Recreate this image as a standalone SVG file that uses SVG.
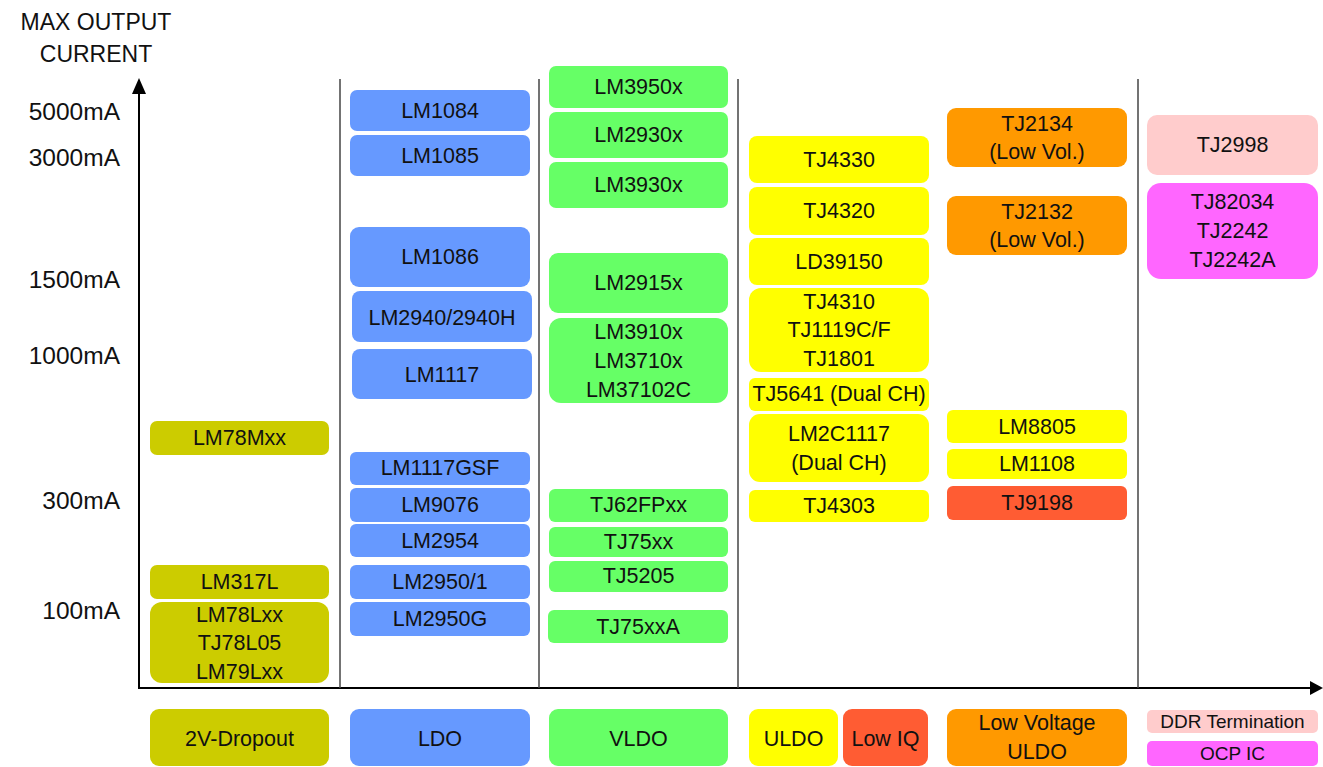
<svg xmlns="http://www.w3.org/2000/svg" width="1323" height="767" viewBox="0 0 1323 767">
<style>
text{font-family:"Liberation Sans",Arial,sans-serif;fill:#111;text-anchor:middle}
.t{font-size:21.5px}
.s{font-size:19px}
.ax{font-size:23px}
.axr{font-size:24.5px;text-anchor:end}
.olive{fill:#cccc00}.blue{fill:#6699ff}.green{fill:#66ff66}.yel{fill:#ffff00}
.org{fill:#ff9900}.red{fill:#ff5c33}.pink{fill:#ffcccc}.mag{fill:#ff66ff}
.axis{stroke:#000;stroke-width:2;fill:none}
.sep{stroke:#444;stroke-width:1.5;fill:none}
</style>
<rect width="1323" height="767" fill="#fff"/>
<g id="axis-labels">
<text class="ax" x="96" y="30">MAX OUTPUT</text>
<text class="ax" x="96" y="62">CURRENT</text>
<text class="axr" x="120" y="120">5000mA</text>
<text class="axr" x="120" y="166">3000mA</text>
<text class="axr" x="120" y="288">1500mA</text>
<text class="axr" x="120" y="364">1000mA</text>
<text class="axr" x="120" y="509">300mA</text>
<text class="axr" x="120" y="619">100mA</text>
</g>
<g id="connectors">
<line class="axis" x1="139" y1="689" x2="139" y2="92"/>
<polygon points="132,94 146,94 139,78" fill="#000"/>
<line class="axis" x1="138" y1="688" x2="1310" y2="688"/>
<polygon points="1310,681 1310,695 1323,688" fill="#000"/>
<line class="sep" x1="340" y1="79" x2="340" y2="688"/>
<line class="sep" x1="539" y1="79" x2="539" y2="688"/>
<line class="sep" x1="738" y1="79" x2="738" y2="688"/>
<line class="sep" x1="1138" y1="79" x2="1138" y2="688"/>
</g>
<!-- Column 1 -->
<g id="n-lm78mxx"><rect class="olive" x="150" y="421" width="179" height="34" rx="7"/><text class="t" x="239.5" y="445">LM78Mxx</text></g>
<g id="n-lm317l"><rect class="olive" x="150" y="565" width="179" height="34" rx="7"/><text class="t" x="239.5" y="589">LM317L</text></g>
<g id="n-lm78lxx"><rect class="olive" x="150" y="602" width="179" height="81" rx="12"/><text class="t" x="239.5" y="622">LM78Lxx</text><text class="t" x="239.5" y="650">TJ78L05</text><text class="t" x="239.5" y="679">LM79Lxx</text></g>
<!-- Column 2 -->
<g id="n-lm1084"><rect class="blue" x="350" y="90" width="180" height="41" rx="7"/><text class="t" x="440" y="118">LM1084</text></g>
<g id="n-lm1085"><rect class="blue" x="350" y="135" width="180" height="41" rx="7"/><text class="t" x="440" y="163">LM1085</text></g>
<g id="n-lm1086"><rect class="blue" x="350" y="227" width="180" height="60" rx="9"/><text class="t" x="440" y="264">LM1086</text></g>
<g id="n-lm2940"><rect class="blue" x="352" y="291" width="180" height="51" rx="8"/><text class="t" x="442" y="325">LM2940/2940H</text></g>
<g id="n-lm1117"><rect class="blue" x="352" y="349" width="180" height="50" rx="8"/><text class="t" x="442" y="382">LM1117</text></g>
<g id="n-lm1117gsf"><rect class="blue" x="350" y="452" width="180" height="33" rx="6"/><text class="t" x="440" y="475">LM1117GSF</text></g>
<g id="n-lm9076"><rect class="blue" x="350" y="488" width="180" height="34" rx="6"/><text class="t" x="440" y="512">LM9076</text></g>
<g id="n-lm2954"><rect class="blue" x="350" y="524" width="180" height="33" rx="6"/><text class="t" x="440" y="548">LM2954</text></g>
<g id="n-lm2950-1"><rect class="blue" x="350" y="565" width="180" height="34" rx="6"/><text class="t" x="440" y="589">LM2950/1</text></g>
<g id="n-lm2950g"><rect class="blue" x="350" y="602" width="180" height="34" rx="6"/><text class="t" x="440" y="626">LM2950G</text></g>
<!-- Column 3 -->
<g id="n-lm3950x"><rect class="green" x="549" y="66" width="179" height="42" rx="7"/><text class="t" x="638.5" y="94">LM3950x</text></g>
<g id="n-lm2930x"><rect class="green" x="549" y="112" width="179" height="46" rx="7"/><text class="t" x="638.5" y="142">LM2930x</text></g>
<g id="n-lm3930x"><rect class="green" x="549" y="162" width="179" height="46" rx="7"/><text class="t" x="638.5" y="192">LM3930x</text></g>
<g id="n-lm2915x"><rect class="green" x="549" y="253" width="179" height="60" rx="9"/><text class="t" x="638.5" y="290">LM2915x</text></g>
<g id="n-lm3910x"><rect class="green" x="549" y="318" width="179" height="85" rx="12"/><text class="t" x="638.5" y="339">LM3910x</text><text class="t" x="638.5" y="368">LM3710x</text><text class="t" x="638.5" y="397">LM37102C</text></g>
<g id="n-tj62fpxx"><rect class="green" x="549" y="489" width="179" height="33" rx="6"/><text class="t" x="638.5" y="512">TJ62FPxx</text></g>
<g id="n-tj75xx"><rect class="green" x="549" y="527" width="179" height="30" rx="6"/><text class="t" x="638.5" y="549">TJ75xx</text></g>
<g id="n-tj5205"><rect class="green" x="549" y="561" width="179" height="31" rx="6"/><text class="t" x="638.5" y="583">TJ5205</text></g>
<g id="n-tj75xxa"><rect class="green" x="548" y="610" width="180" height="33" rx="6"/><text class="t" x="638" y="634">TJ75xxA</text></g>
<!-- Column 4 -->
<g id="n-tj4330"><rect class="yel" x="749" y="136" width="180" height="47" rx="8"/><text class="t" x="839" y="167">TJ4330</text></g>
<g id="n-tj4320"><rect class="yel" x="749" y="187" width="180" height="48" rx="8"/><text class="t" x="839" y="218">TJ4320</text></g>
<g id="n-ld39150"><rect class="yel" x="749" y="238" width="180" height="47" rx="8"/><text class="t" x="839" y="269">LD39150</text></g>
<g id="n-tj4310"><rect class="yel" x="749" y="288" width="180" height="84" rx="12"/><text class="t" x="839" y="309">TJ4310</text><text class="t" x="839" y="337">TJ1119C/F</text><text class="t" x="839" y="366">TJ1801</text></g>
<g id="n-tj5641"><rect class="yel" x="749" y="378" width="180" height="33" rx="6"/><text class="t" x="839" y="401">TJ5641 (Dual CH)</text></g>
<g id="n-lm2c1117"><rect class="yel" x="749" y="414" width="180" height="68" rx="11"/><text class="t" x="839" y="441">LM2C1117</text><text class="t" x="839" y="470">(Dual CH)</text></g>
<g id="n-tj4303"><rect class="yel" x="749" y="490" width="180" height="32" rx="6"/><text class="t" x="839" y="513">TJ4303</text></g>
<!-- Column 5 -->
<g id="n-tj2134"><rect class="org" x="947" y="108" width="180" height="59" rx="9"/><text class="t" x="1037" y="131">TJ2134</text><text class="t" x="1037" y="159">(Low Vol.)</text></g>
<g id="n-tj2132"><rect class="org" x="947" y="196" width="180" height="59" rx="9"/><text class="t" x="1037" y="219">TJ2132</text><text class="t" x="1037" y="247">(Low Vol.)</text></g>
<g id="n-lm8805"><rect class="yel" x="947" y="410" width="180" height="33" rx="6"/><text class="t" x="1037" y="434">LM8805</text></g>
<g id="n-lm1108"><rect class="yel" x="947" y="449" width="180" height="30" rx="6"/><text class="t" x="1037" y="471">LM1108</text></g>
<g id="n-tj9198"><rect class="red" x="947" y="486" width="180" height="34" rx="6"/><text class="t" x="1037" y="510">TJ9198</text></g>
<!-- Column 6 -->
<g id="n-tj2998"><rect class="pink" x="1147" y="115" width="171" height="60" rx="10"/><text class="t" x="1232.5" y="152">TJ2998</text></g>
<g id="n-tj82034"><rect class="mag" x="1147" y="183" width="171" height="96" rx="14"/><text class="t" x="1232.5" y="209">TJ82034</text><text class="t" x="1232.5" y="238">TJ2242</text><text class="t" x="1232.5" y="267">TJ2242A</text></g>
<!-- Legend -->
<g id="legend-2v"><rect class="olive" x="150" y="709" width="179" height="57" rx="9"/><text class="t" x="239.5" y="746">2V-Dropout</text></g>
<g id="legend-ldo"><rect class="blue" x="350" y="709" width="180" height="57" rx="9"/><text class="t" x="440" y="746">LDO</text></g>
<g id="legend-vldo"><rect class="green" x="549" y="709" width="179" height="57" rx="9"/><text class="t" x="638.5" y="746">VLDO</text></g>
<g id="legend-uldo"><rect class="yel" x="749" y="709" width="89" height="57" rx="9"/><text class="t" x="793.5" y="746">ULDO</text></g>
<g id="legend-lowiq"><rect class="red" x="843" y="709" width="85" height="57" rx="9"/><text class="t" x="885.5" y="746">Low IQ</text></g>
<g id="legend-lvuldo"><rect class="org" x="947" y="709" width="180" height="57" rx="9"/><text class="t" x="1037" y="730">Low Voltage</text><text class="t" x="1037" y="759">ULDO</text></g>
<g id="legend-ddr"><rect class="pink" x="1147" y="710" width="171" height="23" rx="5"/><text class="s" x="1232.5" y="728">DDR Termination</text></g>
<g id="legend-ocp"><rect class="mag" x="1147" y="741" width="171" height="25" rx="5"/><text class="s" x="1232.5" y="760">OCP IC</text></g>
</svg>
